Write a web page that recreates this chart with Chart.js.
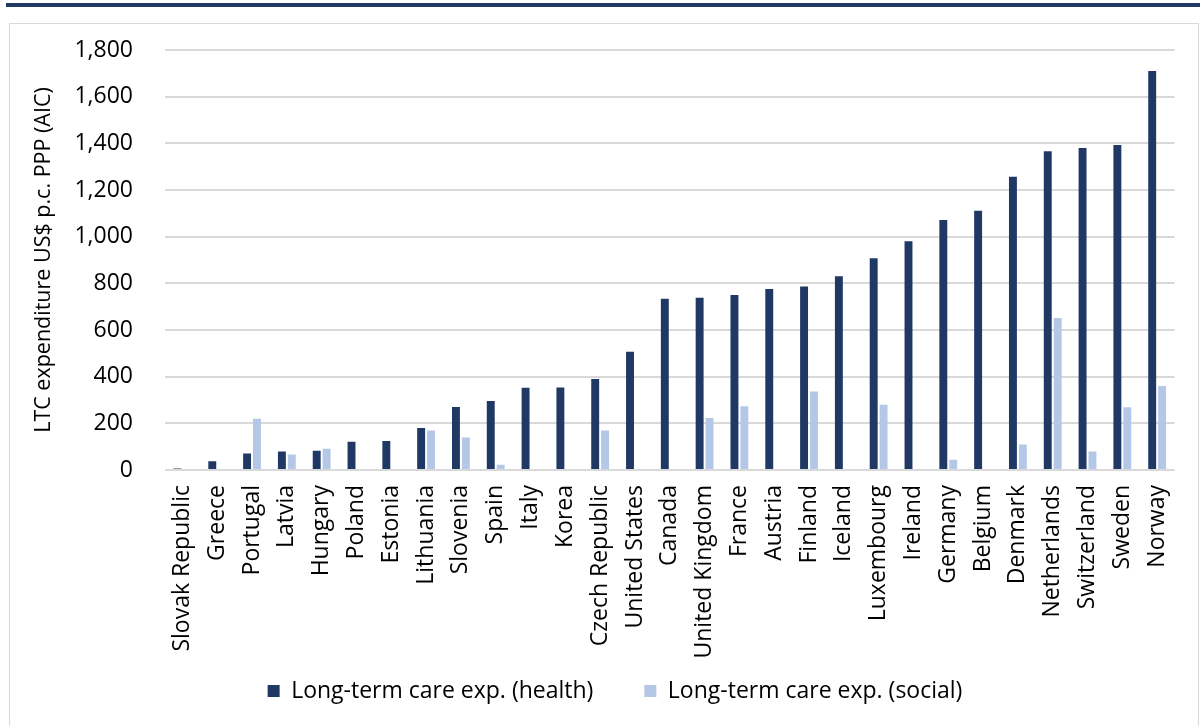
<!DOCTYPE html>
<html>
<head>
<meta charset="utf-8">
<script src="https://cdn.jsdelivr.net/npm/chart.js@4"></script>
<style>
  html, body { margin: 0; padding: 0; background: #fff; }
  body { width: 1200px; height: 726px; position: relative; overflow: hidden; }
  #banda { position: absolute; left: 6px; right: 0; top: 3px; height: 4px; background: #1f3864; }
  #marco { position: absolute; left: 9px; top: 23px; width: 1188px; height: 720px; border: 1px solid #d9d9d9; }
  #grafica { position: absolute; left: 0; top: 0; }
</style>
</head>
<body>
<div id="banda"></div>
<div id="marco"></div>
<canvas id="grafica" width="1200" height="726"></canvas>
<script>
// Datos (US$ per cápita, PPP)
const paises = [
  'Slovak Republic', 'Greece', 'Portugal', 'Latvia', 'Hungary', 'Poland', 'Estonia',
  'Lithuania', 'Slovenia', 'Spain', 'Italy', 'Korea', 'Czech Republic', 'United States',
  'Canada', 'United Kingdom', 'France', 'Austria', 'Finland', 'Iceland', 'Luxembourg',
  'Ireland', 'Germany', 'Belgium', 'Denmark', 'Netherlands', 'Switzerland', 'Sweden', 'Norway'
];
const gastoSalud = [
  6, 37, 71, 79, 83, 121, 124, 180, 270, 296, 353, 354, 390, 507,
  734, 738, 750, 776, 786, 830, 907, 980, 1071, 1111, 1257, 1366, 1380, 1393, 1710
];
const gastoSocial = [
  null, null, 220, 66, 91, null, null, 169, 139, 23, null, null, 169, null,
  null, 223, 273, null, 336, null, 280, null, 44, null, 109, 651, 79, 269, 360
];
const ejeY = { min: 0, max: 1800, paso: 200 };

const FUENTE = 'Open Sans';
const AZUL = '#203864';
const CELESTE = '#b4c7e7';
const GRIS = '#d9d9d9';

// Ajustes finos tras el layout: leyenda algo más a la derecha y
// etiquetas del eje X sin recortar (se meten en la franja de la leyenda)
const ajustesLayout = {
  id: 'ajustesLayout',
  afterLayout(chart) {
    const dx = 8;
    chart.legend.left += dx;
    chart.legend.right += dx;
    chart.scales.x.bottom = chart.height;
  },
};

new Chart(document.querySelector('#grafica'), {
  type: 'bar',
  data: {
    labels: paises,
    datasets: [
      { label: 'Long-term care exp. (health)', data: gastoSalud, backgroundColor: AZUL },
      { label: 'Long-term care exp. (social)', data: gastoSocial, backgroundColor: CELESTE },
    ],
  },
  options: {
    responsive: false,
    animation: false,
    categoryPercentage: 0.569,
    barPercentage: 0.8,
    layout: { padding: { left: 29, right: 15, top: 50, bottom: 13.5 } },
    plugins: {
      tooltip: { enabled: false },
      legend: {
        position: 'bottom',
        labels: {
          boxWidth: 12,
          boxHeight: 12,
          padding: 51,
          color: '#000',
          font: { family: FUENTE, size: 23 },
        },
      },
    },
    scales: {
      x: {
        grid: { display: false, drawTicks: false },
        border: { display: false },
        ticks: {
          autoSkip: false,
          minRotation: 90,
          maxRotation: 90,
          padding: 15,
          color: '#000',
          font: { family: FUENTE, size: 23 },
        },
        afterFit: (s) => { s.height = 158.5; },
      },
      y: {
        min: ejeY.min,
        max: ejeY.max,
        border: { display: false },
        grid: { color: GRIS, lineWidth: 2, drawTicks: false },
        ticks: {
          stepSize: ejeY.paso,
          padding: 32,
          color: '#000',
          font: { family: FUENTE, size: 23 },
          callback: (v) => v.toLocaleString('en-US'),
        },
        title: {
          display: true,
          text: 'LTC expenditure US$ p.c. PPP (AIC)',
          color: '#000',
          padding: { top: 2, bottom: 0 },
          font: { family: FUENTE, size: 21.5 },
        },
        afterFit: (s) => { s.width = 136; },
      },
    },
  },
  plugins: [ajustesLayout],
});
</script>
</body>
</html>
